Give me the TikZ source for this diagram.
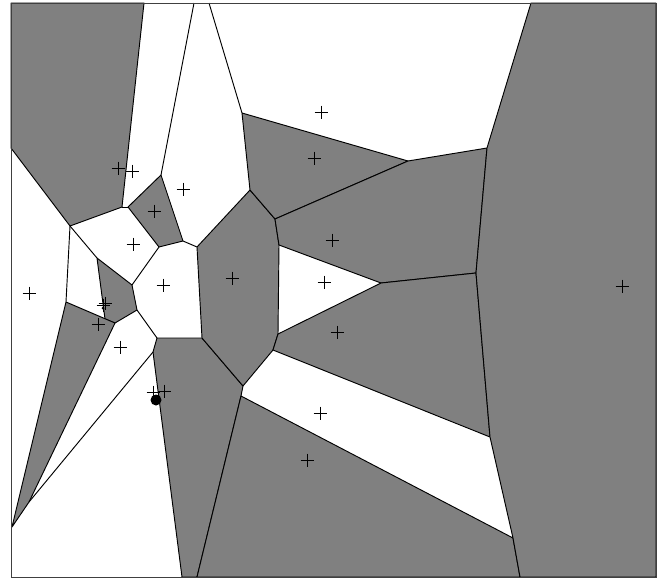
\documentclass[tikz,border=0pt]{standalone}
\usetikzlibrary{calc}
\definecolor{cellgray}{RGB}{128,128,128}
\begin{document}
\begin{tikzpicture}[x=0.03cm, y=-0.03cm]
  \tikzstyle{cell} = [fill=cellgray, draw=black, line width=0.8pt, line join=round]
  \tikzstyle{edge} = [draw=black, line width=0.8pt]
  \tikzstyle{site} = [draw=black, line width=0.7pt]
  \useasboundingbox (0,0) rectangle (666,579);
  \fill[white] (0,0) rectangle (666,579);

  % frame corners
  \coordinate (tl) at (11,3);   \coordinate (tr) at (656,3);
  \coordinate (br) at (656,577); \coordinate (bl) at (11,577);
  % vertices
  \coordinate (a) at (144,3);   \coordinate (b) at (194,3);
  \coordinate (c) at (209,3);   \coordinate (d) at (531,3);
  \coordinate (e) at (11,148);  \coordinate (f) at (70,226);
  \coordinate (g) at (122,207); \coordinate (h) at (128,207);
  \coordinate (i) at (161,175); \coordinate (j) at (183,241);
  \coordinate (k) at (159,247); \coordinate (l) at (197,247);
  \coordinate (m) at (250,190); \coordinate (n) at (242,113);
  \coordinate (o) at (275,219); \coordinate (p) at (408,161);
  \coordinate (q) at (487,148); \coordinate (r) at (279,245);
  \coordinate (s) at (381,283); \coordinate (t) at (476,273);
  \coordinate (u) at (278,334); \coordinate (v) at (273,350);
  \coordinate (w) at (243,386); \coordinate (x) at (241,396);
  \coordinate (y) at (490,437); \coordinate (z) at (513,538);
  \coordinate (aa) at (520,577); \coordinate (bb) at (197,577);
  \coordinate (cc) at (182,577); \coordinate (dd) at (153,352);
  \coordinate (ee) at (157,338); \coordinate (ff) at (202,338);
  \coordinate (gg) at (132,285); \coordinate (hh) at (137,310);
  \coordinate (ii) at (97,258);  \coordinate (jj) at (105,319);
  \coordinate (kk) at (115,323); \coordinate (ll) at (66,302);
  \coordinate (mm) at (29,502);  \coordinate (nn) at (12,527);

  % gray cells
  \path[cell] (tl) -- (a) -- (g) -- (f) -- (e) -- cycle;
  \path[cell] (h) -- (i) -- (j) -- (k) -- cycle;
  \path[cell] (ii) -- (gg) -- (hh) -- (kk) -- (jj) -- cycle;
  \path[cell] (ll) -- (kk) -- (mm) -- (nn) -- cycle;
  \path[cell] (ee) -- (ff) -- (w) -- (x) -- (bb) -- (cc) -- (dd) -- cycle;
  \path[cell] (l) -- (m) -- (o) -- (r) -- (u) -- (v) -- (w) -- (ff) -- cycle;
  \path[cell] (n) -- (p) -- (o) -- (m) -- cycle;
  \path[cell] (o) -- (p) -- (q) -- (t) -- (s) -- (r) -- cycle;
  \path[cell] (u) -- (s) -- (t) -- (y) -- (v) -- cycle;
  \path[cell] (x) -- (z) -- (aa) -- (bb) -- cycle;
  \path[cell] (d) -- (tr) -- (br) -- (aa) -- (z) -- (y) -- (t) -- (q) -- cycle;

  % edges between white cells
  \draw[edge] (b) -- (i);
  \draw[edge] (c) -- (n);
  \draw[edge] (g) -- (h);
  \draw[edge] (j) -- (l);
  \draw[edge] (f) -- (ll);
  \draw[edge] (f) -- (ii);
  \draw[edge] (gg) -- (k);
  \draw[edge] (ee) -- (hh);
  \draw[edge] (mm) -- (dd);

  % frame
  \draw[black!75, line width=0.8pt] (tl) rectangle (br);

  % sites
  \foreach \p in {(321,112), (314,158), (118,168), (132,171), (183,189),
                  (154,211), (332,240), (133,244), (29,293), (163,285),
                  (232,278), (324,282), (622,286), (103,305), (105,303),
                  (98,324), (337,332), (120,347), (153,392), (164,391),
                  (320,413), (307,460)}
    \draw[site] \p +(-6.5,0) -- +(6.5,0) \p +(0,-6.5) -- +(0,6.5);
  \fill (103,308) circle [radius=1.5];
  \fill (156,400) circle [radius=5.5];
\end{tikzpicture}
\end{document}
